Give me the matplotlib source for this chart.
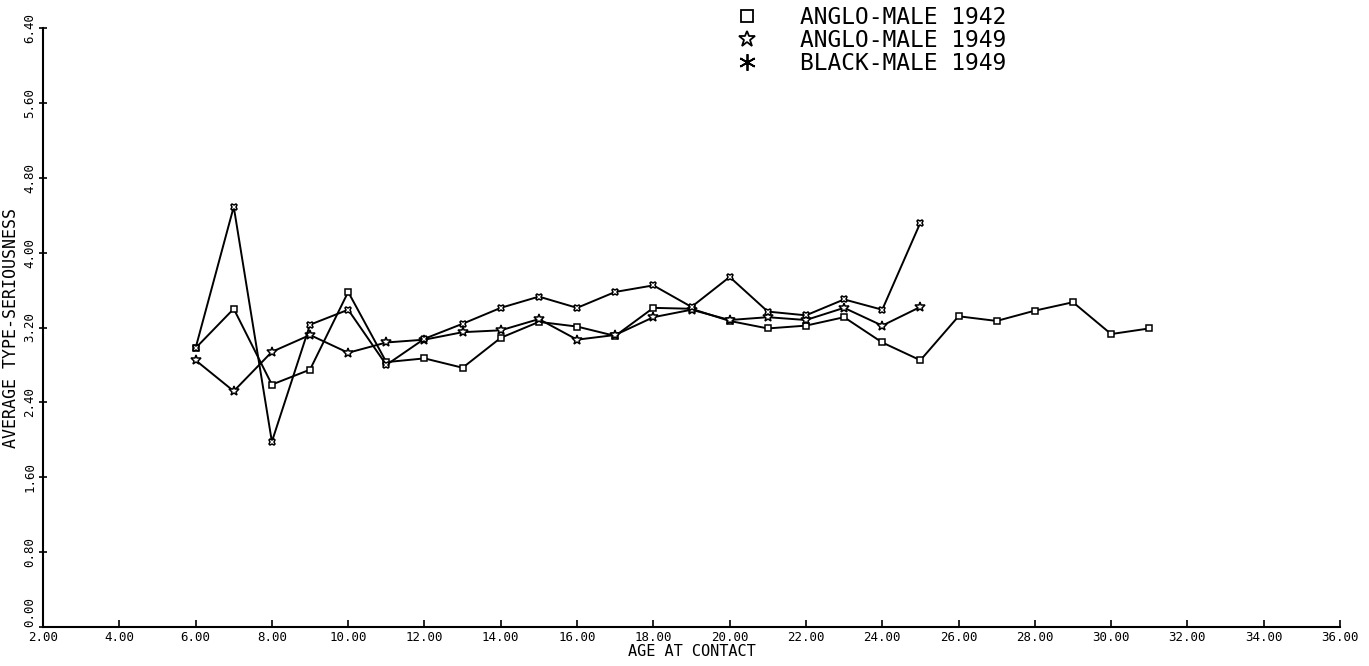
"""
Average type-seriousness by age at contact, three cohorts.
Plotter-style line chart with open markers.
"""

import matplotlib
matplotlib.use("Agg")
import matplotlib.pyplot as plt
from matplotlib.lines import Line2D

# ages at contact
ages_1942 = list(range(6, 32))
ages_1949 = list(range(6, 26))

anglo_1942 = [2.98, 3.40, 2.59, 2.75, 3.58, 2.83, 2.87, 2.77, 3.09, 3.26,
              3.21, 3.11, 3.41, 3.40, 3.27, 3.19, 3.22, 3.31, 3.04, 2.85,
              3.32, 3.27, 3.38, 3.47, 3.13, 3.19]
anglo_1949 = [2.85, 2.52, 2.94, 3.12, 2.93, 3.04, 3.07, 3.15, 3.17, 3.29,
              3.07, 3.12, 3.31, 3.39, 3.28, 3.31, 3.28, 3.41, 3.22, 3.42]
black_1949 = [2.98, 4.49, 1.98, 3.23, 3.39, 2.80, 3.08, 3.24, 3.41, 3.53,
              3.41, 3.58, 3.65, 3.42, 3.74, 3.37, 3.33, 3.50, 3.39, 4.32]

x_ticks = [2, 4, 6, 8, 10, 12, 14, 16, 18, 20, 22, 24, 26, 28, 30, 32, 34, 36]
y_ticks = [0.0, 0.8, 1.6, 2.4, 3.2, 4.0, 4.8, 5.6, 6.4]

labels = ["ANGLO-MALE 1942", "ANGLO-MALE 1949", "BLACK-MALE 1949"]

FONT = "DejaVu Sans Mono"

fig = plt.figure(figsize=(13.69, 6.66), dpi=100)
ax = fig.add_axes([43 / 1369, 39 / 666, (1340 - 43) / 1369, (627 - 28) / 666])

style = dict(color="black", linewidth=1.4, markersize=5,
             markerfacecolor="white", markeredgecolor="black",
             markeredgewidth=1.1)
ax.plot(ages_1942, anglo_1942, marker="s", **style)
ax.plot(ages_1949, anglo_1949, marker="*", **{**style, "markersize": 7})
ax.plot(ages_1949, black_1949, marker="X", **style)

ax.set_xlim(2, 36)
ax.set_ylim(0, 6.4)
ax.set_xticks(x_ticks)
ax.set_xticklabels([f"{v:.2f}" for v in x_ticks], fontsize=9, family=FONT)
ax.set_yticks(y_ticks)
ax.set_yticklabels([f"{v:.2f}" for v in y_ticks], fontsize=9, family=FONT,
                   rotation=90, va="center")
# origin label sits above the corner, as on the plotter output
ax.get_yticklabels()[0].set_va("bottom")

ax.spines["top"].set_visible(False)
ax.spines["right"].set_visible(False)
ax.spines["left"].set_linewidth(1.5)
ax.spines["bottom"].set_linewidth(1.5)
ax.tick_params(axis="x", direction="in", length=5, width=1.2, pad=3)
ax.tick_params(axis="y", direction="inout", length=6, width=1.2, pad=2)

ax.set_xlabel("AGE AT CONTACT", fontsize=11, family=FONT, labelpad=0)
ax.set_ylabel("AVERAGE TYPE-SERIOUSNESS", fontsize=12, family=FONT, labelpad=2)

handles = [
    Line2D([], [], linestyle="none", marker="s", markersize=9,
           markerfacecolor="white", markeredgecolor="black", markeredgewidth=1.3),
    Line2D([], [], linestyle="none", marker="*", markersize=12,
           markerfacecolor="white", markeredgecolor="black", markeredgewidth=1.3),
    Line2D([], [], linestyle="none", marker=(6, 2, 0), markersize=12,
           markeredgecolor="black", markeredgewidth=1.3),
]
fig.legend(handles, labels, loc="upper left", bbox_to_anchor=(713 / 1369, 1.0225),
           frameon=False, handlelength=1.2, handletextpad=1.7,
           labelspacing=0.0, prop={"family": FONT, "size": 16.5})

plt.savefig("out.png", dpi=100)
plt.close()
